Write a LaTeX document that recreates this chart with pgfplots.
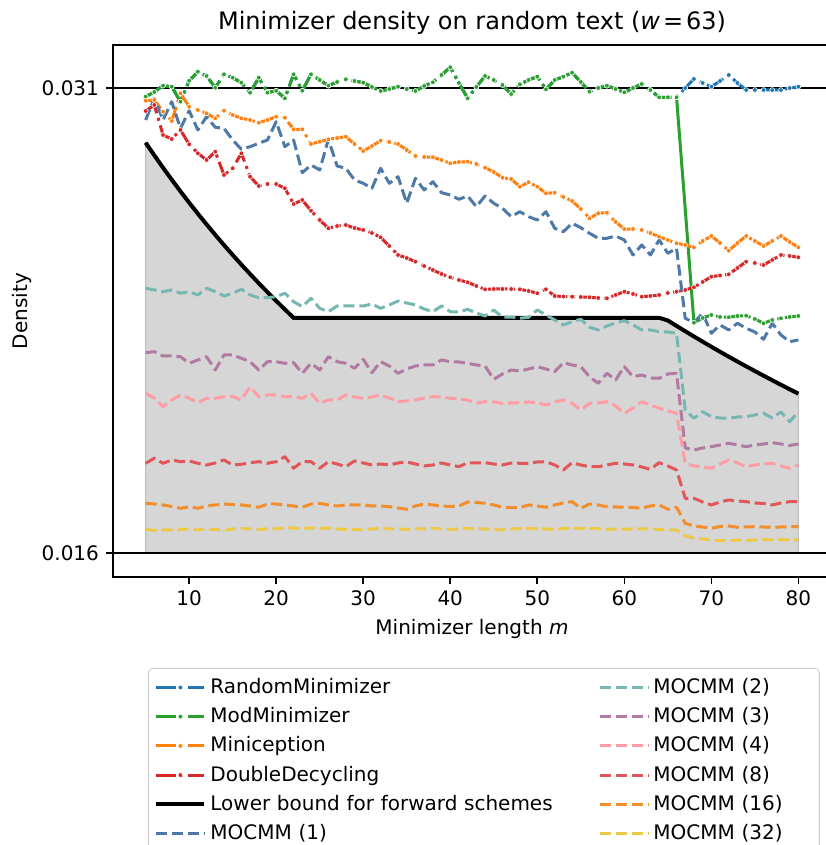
\documentclass[border=0pt]{standalone}
\usepackage{fontspec}
\setmainfont{DejaVu Sans}
\usepackage{pgfplots}
\pgfplotsset{compat=1.18}
\usepackage{pgfplotstable}
\usepgfplotslibrary{fillbetween}

\definecolor{tabblue}{HTML}{1F77B4}
\definecolor{tabgreen}{HTML}{2CA02C}
\definecolor{taborange}{HTML}{FF7F0E}
\definecolor{tabred}{HTML}{D62728}
\definecolor{mA}{HTML}{4E79A7}
\definecolor{mB}{HTML}{76B7B2}
\definecolor{mC}{HTML}{B07AA1}
\definecolor{mD}{HTML}{FF9DA7}
\definecolor{mE}{HTML}{E15759}
\definecolor{mF}{HTML}{F28E2B}
\definecolor{mG}{HTML}{EDC948}

% k, then one column per scheme (density)
\pgfplotstableread{
k rnd mod mini dd lb m1 m2 m3 m4 m8 m16 m32
5 0.030958 0.030958 0.030823 0.030477 0.029412 0.030175 0.024520 0.022356 0.020992 0.018640 0.017296 0.016422
6 0.031116 0.031116 0.030847 0.030679 0.028986 0.030904 0.024463 0.022390 0.020824 0.018808 0.017272 0.016382
7 0.031327 0.031327 0.030454 0.029671 0.028571 0.030175 0.024406 0.022245 0.020542 0.018640 0.017239 0.016399
8 0.031294 0.031294 0.030141 0.029536 0.028169 0.030790 0.024463 0.022245 0.020767 0.018751 0.017188 0.016399
9 0.030790 0.030790 0.031072 0.029839 0.027778 0.029896 0.024352 0.022222 0.020935 0.018694 0.017128 0.016415
10 0.031495 0.031495 0.030622 0.029358 0.027397 0.030487 0.024406 0.022000 0.020824 0.018717 0.017172 0.016432
11 0.031798 0.031798 0.030511 0.029056 0.027027 0.029839 0.024295 0.022111 0.020676 0.018640 0.017128 0.016399
12 0.031653 0.031653 0.030400 0.028831 0.026667 0.030286 0.024520 0.022222 0.020824 0.018583 0.017205 0.016432
13 0.031260 0.031260 0.030232 0.029110 0.026316 0.029930 0.024406 0.021775 0.020824 0.018650 0.017239 0.016415
14 0.031710 0.031710 0.030487 0.028327 0.025974 0.029896 0.024261 0.022279 0.020878 0.018751 0.017272 0.016382
15 0.031596 0.031596 0.030343 0.028552 0.025641 0.029503 0.024352 0.022279 0.020878 0.018583 0.017256 0.016432
16 0.031428 0.031428 0.030232 0.029056 0.025316 0.029190 0.024486 0.022168 0.020767 0.018606 0.017239 0.016449
17 0.031092 0.031092 0.030175 0.028270 0.025000 0.029278 0.024295 0.022054 0.021214 0.018660 0.017205 0.016432
18 0.031596 0.031596 0.030084 0.027957 0.024691 0.029392 0.024204 0.021775 0.020878 0.018694 0.017162 0.016415
19 0.031092 0.031092 0.030175 0.028024 0.024390 0.029503 0.024204 0.022054 0.020935 0.018640 0.017272 0.016439
20 0.031159 0.031159 0.030286 0.028024 0.024096 0.030118 0.024238 0.022054 0.020935 0.018694 0.017272 0.016432
21 0.030904 0.030904 0.030252 0.027880 0.023810 0.029278 0.024352 0.022000 0.020878 0.018862 0.017239 0.016466
22 0.031710 0.031710 0.029862 0.027352 0.023529 0.029503 0.024070 0.022020 0.020878 0.018472 0.017205 0.016466
23 0.031159 0.031159 0.029862 0.027487 0.023529 0.028404 0.023902 0.021664 0.020824 0.018694 0.017162 0.016449
24 0.031710 0.031710 0.029368 0.027127 0.023529 0.028663 0.024184 0.022000 0.020992 0.018694 0.017272 0.016466
25 0.031519 0.031519 0.029446 0.026815 0.023529 0.028495 0.023848 0.021775 0.020656 0.018472 0.017296 0.016449
26 0.031327 0.031327 0.029526 0.026536 0.023529 0.029526 0.023734 0.022222 0.020767 0.018694 0.017239 0.016466
27 0.031452 0.031452 0.029570 0.026613 0.023529 0.028629 0.023925 0.022054 0.020767 0.018616 0.017205 0.016432
28 0.031542 0.031542 0.029614 0.026647 0.023529 0.028552 0.023925 0.022000 0.020935 0.018526 0.017239 0.016415
29 0.031485 0.031485 0.029368 0.026546 0.023529 0.028159 0.023925 0.021832 0.020868 0.018717 0.017239 0.016415
30 0.031428 0.031428 0.029133 0.026479 0.023529 0.028048 0.023925 0.022134 0.020824 0.018650 0.017239 0.016399
31 0.031284 0.031284 0.029301 0.026378 0.023529 0.027880 0.023992 0.021684 0.020868 0.018583 0.017205 0.016432
32 0.031149 0.031149 0.029479 0.026234 0.023529 0.028552 0.023848 0.022054 0.020935 0.018616 0.017205 0.016449
33 0.031216 0.031216 0.029436 0.025941 0.023529 0.028048 0.023959 0.021909 0.020834 0.018583 0.017182 0.016432
34 0.031294 0.031294 0.029368 0.025639 0.023529 0.028270 0.024093 0.021664 0.020710 0.018650 0.017138 0.016432
35 0.031216 0.031216 0.029167 0.025538 0.023529 0.027376 0.024026 0.021808 0.020733 0.018684 0.017094 0.016415
36 0.031149 0.031149 0.028965 0.025414 0.023529 0.028216 0.023959 0.021909 0.020767 0.018616 0.017205 0.016432
37 0.031317 0.031317 0.028932 0.025269 0.023529 0.027823 0.023824 0.021943 0.020834 0.018549 0.017272 0.016432
38 0.031442 0.031442 0.028922 0.025135 0.023529 0.028102 0.023734 0.021943 0.020878 0.018583 0.017239 0.016449
39 0.031687 0.031687 0.028831 0.025000 0.023529 0.027732 0.023925 0.022111 0.020868 0.018650 0.017205 0.016432
40 0.031946 0.031946 0.028720 0.024890 0.023529 0.027655 0.023734 0.022054 0.020824 0.018583 0.017188 0.016415
41 0.031418 0.031418 0.028764 0.024799 0.023529 0.027510 0.023724 0.022044 0.020800 0.018526 0.017205 0.016432
42 0.030904 0.030904 0.028774 0.024722 0.023529 0.027621 0.023814 0.022000 0.020767 0.018660 0.017340 0.016449
43 0.031284 0.031284 0.028696 0.024597 0.023529 0.027262 0.023690 0.021943 0.020656 0.018650 0.017323 0.016432
44 0.031653 0.031653 0.028572 0.024486 0.023529 0.027621 0.023589 0.021909 0.020710 0.018660 0.017296 0.016432
45 0.031519 0.031519 0.028428 0.024496 0.023529 0.027376 0.023791 0.021462 0.020700 0.018616 0.017239 0.016415
46 0.031351 0.031351 0.028236 0.024496 0.023529 0.027208 0.023546 0.021640 0.020656 0.018583 0.017162 0.016399
47 0.031048 0.031048 0.028192 0.024496 0.023529 0.026926 0.023556 0.021775 0.020666 0.018650 0.017148 0.016432
48 0.031374 0.031374 0.027934 0.024486 0.023529 0.027094 0.023512 0.021741 0.020676 0.018640 0.017155 0.016449
49 0.031519 0.031519 0.028082 0.024429 0.023529 0.026926 0.023546 0.021808 0.020700 0.018640 0.017239 0.016449
50 0.031630 0.031630 0.027934 0.024352 0.023529 0.026815 0.023791 0.021886 0.020676 0.018684 0.017205 0.016432
51 0.031206 0.031206 0.027712 0.024486 0.023529 0.027094 0.023623 0.021808 0.020599 0.018694 0.017162 0.016432
52 0.031519 0.031519 0.027732 0.024261 0.023529 0.026536 0.023455 0.021718 0.020700 0.018583 0.017239 0.016415
53 0.031630 0.031630 0.027588 0.024244 0.023529 0.026422 0.023287 0.022020 0.020767 0.018415 0.017306 0.016449
54 0.031764 0.031764 0.027453 0.024238 0.023529 0.026704 0.023398 0.021943 0.020656 0.018660 0.017350 0.016456
55 0.031452 0.031452 0.027184 0.024228 0.023529 0.026556 0.023478 0.021886 0.020431 0.018583 0.017128 0.016449
56 0.031126 0.031126 0.026872 0.024218 0.023529 0.026368 0.023210 0.021550 0.020656 0.018526 0.017272 0.016456
57 0.031250 0.031250 0.027040 0.024194 0.023529 0.026200 0.023119 0.021328 0.020666 0.018526 0.017239 0.016439
58 0.031327 0.031327 0.027060 0.024184 0.023529 0.026200 0.023253 0.021664 0.020710 0.018583 0.017182 0.016415
59 0.031216 0.031216 0.026748 0.024295 0.023529 0.026277 0.023354 0.021439 0.020565 0.018640 0.017172 0.016432
60 0.031106 0.031106 0.026512 0.024406 0.023529 0.026143 0.023431 0.021886 0.020320 0.018616 0.017162 0.016422
61 0.031250 0.031250 0.026512 0.024328 0.023529 0.025639 0.023287 0.021550 0.020498 0.018583 0.017155 0.016432
62 0.031384 0.031384 0.026479 0.024238 0.023529 0.025975 0.023119 0.021607 0.020710 0.018516 0.017128 0.016432
63 0.031183 0.031183 0.026378 0.024261 0.023529 0.025639 0.023119 0.021506 0.020599 0.018438 0.017205 0.016432
64 0.030938 0.030938 0.026254 0.024295 0.023529 0.026143 0.023062 0.021496 0.020488 0.018660 0.017239 0.016415
65 0.030938 0.030938 0.026143 0.024362 0.023438 0.025696 0.023052 0.021640 0.020397 0.018549 0.017094 0.016399
66 0.030938 0.030938 0.026032 0.024406 0.023256 0.025864 0.023008 0.021664 0.020320 0.018415 0.017162 0.016399
67 0.031250 0.027184 0.025975 0.024463 0.023077 0.023512 0.020431 0.019154 0.018640 0.017464 0.016624 0.016207
68 0.031552 0.023364 0.025898 0.024554 0.022901 0.023364 0.020152 0.019087 0.018549 0.017464 0.016533 0.016120
69 0.031418 0.023522 0.026109 0.024732 0.022727 0.023680 0.020374 0.019154 0.018516 0.017340 0.016500 0.016096
70 0.031294 0.023623 0.026277 0.024910 0.022556 0.023008 0.020206 0.019198 0.018472 0.017239 0.016456 0.016063
71 0.031485 0.023556 0.026042 0.024950 0.022388 0.023287 0.020162 0.019255 0.018616 0.017340 0.016516 0.016046
72 0.031687 0.023546 0.025783 0.024990 0.022222 0.023119 0.020152 0.019312 0.018751 0.017407 0.016533 0.016039
73 0.031418 0.023589 0.026042 0.025202 0.022059 0.023344 0.020196 0.019255 0.018650 0.017373 0.016490 0.016063
74 0.031183 0.023599 0.026277 0.025414 0.021898 0.023176 0.020206 0.019198 0.018526 0.017350 0.016500 0.016046
75 0.031183 0.023488 0.026109 0.025370 0.021739 0.023052 0.020263 0.019255 0.018583 0.017306 0.016510 0.016063
76 0.031183 0.023344 0.025941 0.025303 0.021583 0.022806 0.020320 0.019288 0.018616 0.017289 0.016500 0.016080
77 0.031183 0.023455 0.026109 0.025471 0.021429 0.023344 0.020162 0.019332 0.018640 0.017239 0.016490 0.016063
78 0.031183 0.023512 0.026277 0.025639 0.021277 0.022951 0.020364 0.019288 0.018549 0.017306 0.016500 0.016080
79 0.031250 0.023556 0.026076 0.025605 0.021127 0.022726 0.020038 0.019238 0.018472 0.017350 0.016510 0.016063
80 0.031294 0.023589 0.025898 0.025562 0.020979 0.022783 0.020374 0.019288 0.018583 0.017350 0.016516 0.016063
}\density

\pgfplotsset{
  dotline/.style={color=#1, line width=1.5pt, line join=round,
    dash pattern=on 9.6pt off 2.4pt on 1.5pt off 2.4pt,
    mark=*, mark size=1.2pt, mark options={solid, draw=white, line width=0.3pt, fill=#1}},
  dashline/.style={color=#1, line width=1.5pt, line join=round,
    dash pattern=on 5.55pt off 2.4pt},
}

\begin{document}
\begin{tikzpicture}
\begin{axis}[
  at={(56.5pt,134pt)}, anchor=south west,
  scale only axis, width=359pt, height=266pt,
  xmin=1.25, xmax=83.75, ymin=0.014819, ymax=0.032695,
  xtick={10,20,...,80},
  ytick={0.015625,0.03125}, yticklabels={0.016,0.031},
  scaled y ticks=false,
  tick align=outside, tick pos=left,
  major tick length=3.5pt,
  every tick/.style={black, line width=0.8pt},
  axis line style={line width=0.8pt},
  ticklabel style={font=\fontsize{10}{12}\selectfont, /pgf/number format/assume math mode=true},
  title={Minimizer density on random text (\textit{w}\hspace{0.12em}=\hspace{0.12em}63)},
  title style={at={(0.5,1)}, anchor=center, yshift=5pt, font=\fontsize{12}{14}\selectfont},
  xlabel={Minimizer length \textit{m}},
  ylabel={Density},
  every axis x label/.style={at={(axis description cs:0.5,0)}, anchor=center, yshift=-26pt, font=\fontsize{10}{12}\selectfont},
  every axis y label/.style={at={(axis description cs:0,0.5)}, anchor=center, xshift=-45.5pt, rotate=90, font=\fontsize{10}{12}\selectfont},
  legend columns=2,
  legend cell align=left,
  legend style={at={(0.0487,-0.171)}, anchor=north west, draw=black!20, rounded corners=2pt,
    font=\fontsize{10}{12}\selectfont, inner xsep=3pt, inner ysep=3pt, row sep=1.5pt,
    /tikz/column 2/.style={text width=192pt},
    /tikz/column 4/.style={text width=78pt}},
  legend image code/.code={\draw[mark repeat=2, mark phase=2, #1] plot coordinates {(0pt,0pt) (12pt,0pt) (24pt,0pt)};},
]
% grey region under the lower bound
\addplot[draw=none, name path=lbpath, forget plot] table[x=k, y=lb] {\density};
\addplot[draw=none, name path=basepath, forget plot] coordinates {(5,0.015625) (80,0.015625)};
\addplot[fill=black!16, draw=black!26, line width=0.5pt, forget plot] fill between[of=lbpath and basepath];

\addplot[black, line width=0.7pt, forget plot] coordinates {(1.25,0.03125) (83.75,0.03125)};
\addplot[black, line width=0.7pt, forget plot] coordinates {(1.25,0.015625) (83.75,0.015625)};

\addplot[dotline=tabblue, forget plot] table[x=k, y=rnd] {\density};
\addplot[dotline=tabgreen, forget plot, restrict x to domain=5:66] table[x=k, y=mod] {\density};
\addplot[tabgreen, line width=1.5pt, forget plot, restrict x to domain=66:68] table[x=k, y=mod] {\density};
\addplot[dotline=tabgreen, forget plot, restrict x to domain=68:80] table[x=k, y=mod] {\density};
\addplot[dotline=taborange, forget plot] table[x=k, y=mini] {\density};
\addplot[dotline=tabred, forget plot] table[x=k, y=dd] {\density};
\addplot[black, line width=2pt, forget plot] table[x=k, y=lb] {\density};
\addplot[dashline=mA, forget plot] table[x=k, y=m1] {\density};
\addplot[dashline=mB, forget plot] table[x=k, y=m2] {\density};
\addplot[dashline=mC, forget plot] table[x=k, y=m3] {\density};
\addplot[dashline=mD, forget plot] table[x=k, y=m4] {\density};
\addplot[dashline=mE, forget plot] table[x=k, y=m8] {\density};
\addplot[dashline=mF, forget plot] table[x=k, y=m16] {\density};
\addplot[dashline=mG, forget plot] table[x=k, y=m32] {\density};

% legend, filled row by row
\addlegendimage{dotline=tabblue}\addlegendentry{RandomMinimizer}
\addlegendimage{dashline=mB}\addlegendentry{MOCMM (2)}
\addlegendimage{dotline=tabgreen}\addlegendentry{ModMinimizer}
\addlegendimage{dashline=mC}\addlegendentry{MOCMM (3)}
\addlegendimage{dotline=taborange}\addlegendentry{Miniception}
\addlegendimage{dashline=mD}\addlegendentry{MOCMM (4)}
\addlegendimage{dotline=tabred}\addlegendentry{DoubleDecycling}
\addlegendimage{dashline=mE}\addlegendentry{MOCMM (8)}
\addlegendimage{black, line width=2pt}\addlegendentry{Lower bound for forward schemes}
\addlegendimage{dashline=mF}\addlegendentry{MOCMM (16)}
\addlegendimage{dashline=mA}\addlegendentry{MOCMM (1)}
\addlegendimage{dashline=mG}\addlegendentry{MOCMM (32)}
\end{axis}
\pgfresetboundingbox
\useasboundingbox (0,0) rectangle (412.5pt,422.5pt);
\end{tikzpicture}
\end{document}
